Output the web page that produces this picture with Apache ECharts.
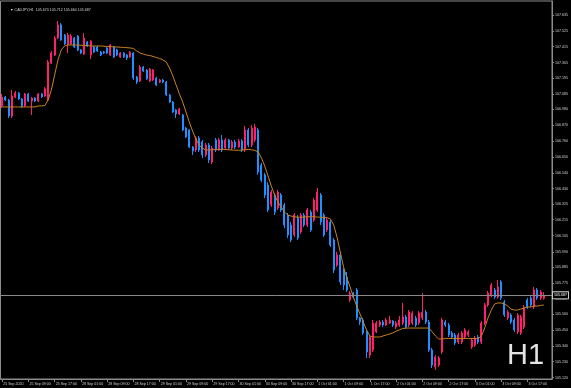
<!DOCTYPE html>
<html><head><meta charset="utf-8">
<script src="https://cdn.jsdelivr.net/npm/echarts@6/dist/echarts.min.js"></script>
<style>html,body{margin:0;padding:0;background:#000;}#c{width:571px;height:388px;}</style>
</head><body><div id="c"></div>
<script>
const symbolTitle = '\u25BC CADJPY,H1  105.670 105.712 105.660 105.687';
const periodText = 'H1';
const bidPrice = 105.687;
const timeLabels = ['25 Sep 2020','25 Sep 09:00','25 Sep 17:00','28 Sep 01:00','28 Sep 09:00','28 Sep 17:00',
  '29 Sep 01:00','29 Sep 09:00','29 Sep 17:00','30 Sep 01:00','30 Sep 09:00','30 Sep 17:00',
  '1 Oct 01:00','1 Oct 09:00','1 Oct 17:00','2 Oct 01:00','2 Oct 09:00','2 Oct 17:00',
  '3 Oct 01:00','3 Oct 09:00','3 Oct 17:00'];
const priceTicks = [105.120,105.230,105.340,105.450,105.560,105.667,105.775,105.885,105.990,106.105,106.215,106.325,
  106.430,106.540,106.650,106.760,106.870,106.980,107.085,107.195,107.305,107.415,107.525,107.635];
// [open, high, low, close]
const bars = [
[107.004,107.087,106.990,107.066],[107.066,107.073,107.038,107.045],[107.045,107.052,106.920,106.934],[106.934,107.115,106.920,107.073],
[107.066,107.108,107.059,107.094],[107.094,107.101,107.045,107.052],[107.052,107.059,106.990,107.004],[107.004,107.094,106.997,107.087],
[107.087,107.094,107.031,107.038],[107.038,107.066,106.941,107.059],[107.059,107.066,107.031,107.038],[107.038,107.094,107.031,107.087],
[107.087,107.094,107.059,107.066],[107.073,107.135,107.066,107.122],[107.045,107.323,107.038,107.309],[107.302,107.385,107.295,107.371],
[107.357,107.489,107.350,107.475],[107.475,107.593,107.468,107.566],[107.566,107.579,107.455,107.461],[107.496,107.503,107.427,107.434],
[107.427,107.510,107.371,107.496],[107.434,107.503,107.427,107.489],[107.475,107.482,107.406,107.413],[107.489,107.496,107.385,107.392],
[107.392,107.399,107.364,107.371],[107.364,107.510,107.357,107.475],[107.448,107.455,107.413,107.420],[107.357,107.461,107.330,107.455],
[107.413,107.420,107.371,107.378],[107.413,107.420,107.378,107.385],[107.378,107.385,107.350,107.357],[107.378,107.385,107.364,107.371],
[107.406,107.413,107.364,107.371],[107.357,107.434,107.350,107.427],[107.413,107.420,107.337,107.344],[107.392,107.399,107.350,107.357],
[107.344,107.378,107.337,107.371],[107.371,107.378,107.337,107.344],[107.357,107.364,107.323,107.337],[107.344,107.385,107.337,107.378],
[107.371,107.378,107.184,107.198],[107.205,107.212,107.156,107.170],[107.177,107.288,107.170,107.274],[107.274,107.281,107.239,107.246],
[107.253,107.260,107.184,107.191],[107.177,107.267,107.170,107.260],[107.184,107.260,107.177,107.253],[107.198,107.205,107.142,107.149],
[107.170,107.191,107.163,107.184],[107.184,107.191,107.163,107.170],[107.170,107.177,107.073,107.080],[107.080,107.087,107.024,107.031],
[107.031,107.038,106.955,106.962],[106.976,106.983,106.920,106.948],[106.948,106.990,106.941,106.983],[106.941,106.948,106.830,106.837],
[106.851,106.858,106.782,106.789],[106.837,106.844,106.712,106.719],[106.719,106.726,106.664,106.691],[106.698,106.795,106.684,106.782],
[106.782,106.795,106.684,106.698],[106.754,106.768,106.643,106.664],[106.664,106.747,106.650,106.733],[106.733,106.747,106.608,106.629],
[106.615,106.726,106.601,106.712],[106.768,106.782,106.684,106.698],[106.698,106.782,106.691,106.768],[106.768,106.802,106.684,106.698],
[106.712,106.782,106.698,106.768],[106.768,106.775,106.698,106.712],[106.712,106.768,106.698,106.754],[106.754,106.768,106.705,106.719],
[106.719,106.775,106.712,106.761],[106.761,106.775,106.684,106.698],[106.698,106.865,106.684,106.837],[106.837,106.851,106.719,106.733],
[106.733,106.872,106.719,106.851],[106.768,106.879,106.754,106.858],[106.837,106.851,106.525,106.546],[106.594,106.608,106.476,106.490],
[106.525,106.539,106.365,106.386],[106.455,106.476,106.268,106.282],[106.317,106.421,106.303,106.407],[106.386,106.400,106.247,106.268],
[106.296,106.421,106.282,106.407],[106.386,106.400,106.268,106.282],[106.317,106.331,106.157,106.178],[106.247,106.261,106.088,106.109],
[106.178,106.199,106.060,106.074],[106.109,106.261,106.095,106.247],[106.226,106.247,106.074,106.088],[106.129,106.261,106.116,106.247],
[106.247,106.261,106.164,106.178],[106.178,106.296,106.164,106.282],[106.268,106.282,106.129,106.143],[106.213,106.365,106.199,106.351],
[106.282,106.435,106.268,106.407],[106.386,106.400,106.178,106.199],[106.247,106.261,106.095,106.109],[106.143,106.226,106.129,106.213],
[106.199,106.213,106.025,106.039],[106.074,106.088,105.845,105.866],[105.900,105.991,105.887,105.970],[105.970,105.991,105.762,105.783],
[105.866,105.880,105.727,105.762],[105.817,105.852,105.713,105.727],[105.658,105.720,105.644,105.706],[105.706,105.713,105.665,105.678],
[105.727,105.741,105.519,105.533],[105.533,105.540,105.484,105.505],[105.519,105.533,105.415,105.429],[105.436,105.450,105.255,105.297],
[105.276,105.415,105.255,105.401],[105.311,105.519,105.297,105.498],[105.436,105.512,105.429,105.498],[105.484,105.519,105.470,105.505],
[105.505,105.519,105.470,105.484],[105.484,105.533,105.477,105.519],[105.498,105.547,105.491,105.519],[105.512,105.519,105.470,105.484],
[105.470,105.512,105.456,105.498],[105.484,105.547,105.470,105.519],[105.498,105.637,105.484,105.540],[105.540,105.554,105.456,105.470],
[105.484,105.588,105.470,105.574],[105.498,105.581,105.484,105.567],[105.533,105.547,105.470,105.484],[105.498,105.581,105.484,105.567],
[105.533,105.706,105.519,105.574],[105.574,105.588,105.491,105.505],[105.505,105.519,105.297,105.311],[105.311,105.325,105.186,105.207],
[105.193,105.276,105.172,105.262],[105.207,105.269,105.193,105.255],[105.297,105.533,105.283,105.519],[105.505,105.519,105.470,105.484],
[105.484,105.498,105.401,105.415],[105.429,105.443,105.387,105.401],[105.415,105.429,105.345,105.359],[105.366,105.429,105.352,105.415],
[105.366,105.443,105.352,105.429],[105.401,105.463,105.387,105.450],[105.415,105.450,105.401,105.436],[105.332,105.394,105.318,105.380],
[105.345,105.408,105.332,105.394],[105.401,105.415,105.352,105.366],[105.366,105.512,105.352,105.498],[105.498,105.637,105.484,105.623],
[105.623,105.720,105.609,105.706],[105.692,105.776,105.678,105.762],[105.727,105.741,105.665,105.678],[105.678,105.796,105.665,105.748],
[105.783,105.796,105.658,105.672],[105.644,105.658,105.540,105.554],[105.533,105.588,105.519,105.574],[105.554,105.567,105.491,105.505],
[105.519,105.533,105.436,105.450],[105.436,105.567,105.422,105.554],[105.429,105.554,105.415,105.540],[105.470,105.623,105.456,105.609],
[105.658,105.672,105.595,105.609],[105.672,105.685,105.609,105.623],[105.609,105.748,105.595,105.727],[105.727,105.741,105.658,105.672],
[105.672,105.727,105.658,105.713],[105.670,105.712,105.660,105.687]
];
const maValues = [
106.997,106.997,106.997,106.997,106.997,106.997,106.997,106.997,106.997,106.997,106.997,
107.004,107.004,107.007,107.045,107.115,107.219,107.323,107.392,107.420,107.427,
107.427,107.427,107.426,107.425,107.423,107.422,107.421,107.420,107.420,107.420,
107.418,107.417,107.415,107.414,107.413,107.411,107.410,107.408,107.406,107.403,
107.385,107.371,107.364,107.357,107.354,107.347,107.340,107.333,107.323,107.309,
107.267,107.212,107.149,107.087,107.031,106.962,106.893,106.830,106.775,106.733,
106.712,106.698,106.698,106.700,106.702,106.703,106.703,106.702,106.700,106.698,
106.697,106.697,106.698,106.700,106.702,106.700,106.695,106.684,106.643,106.587,
106.518,106.448,106.386,106.338,106.303,106.268,106.247,106.240,106.235,106.233,
106.232,106.233,106.235,106.236,106.235,106.233,106.232,106.230,106.228,106.220,
106.178,106.095,105.991,105.887,105.810,105.748,105.678,105.616,105.561,105.505,
105.450,105.408,105.401,105.401,105.401,105.408,105.415,105.422,105.429,105.442,
105.450,105.460,105.463,105.463,105.463,105.463,105.463,105.463,105.463,105.463,
105.436,105.408,105.387,105.387,105.391,105.391,105.391,105.391,105.391,105.391,
105.391,105.391,105.391,105.391,105.391,105.408,105.463,105.533,105.588,105.630,
105.637,105.637,105.630,105.616,105.595,105.588,105.588,105.595,105.602,105.609,
105.609,105.616,105.616,105.620,105.623
];
const totalSlots = 168;
const barsPerLabel = 8;
const yMin = 105.1096, yMax = 107.732;

const cats = Array.from({length: totalSlots}, (_, i) => String(i));
const candleData = bars.map(b => [b[0], b[3], b[2], b[1]]);
const showLabel = (idx) => idx % barsPerLabel === 0 && (idx / barsPerLabel) < timeLabels.length;
const tinyFont = '"Liberation Sans", Arial, sans-serif';
const tinySize = 3.6;
const chart = echarts.init(document.getElementById('c'), null, {renderer: 'canvas'});
chart.setOption({
  backgroundColor: '#000000',
  animation: false,
  grid: {left: 0.5, right: 17, top: 1, bottom: 9, show: true, borderColor: '#8c8c8c', borderWidth: 1},
  xAxis: {
    type: 'category', data: cats, boundaryGap: true,
    axisLine: {show: true, lineStyle: {color: '#8c8c8c'}},
    axisTick: {show: true, alignWithLabel: true, interval: (i) => showLabel(i), length: 3, lineStyle: {color: '#8c8c8c'}},
    axisLabel: {show: true, interval: (i) => showLabel(i), formatter: (v, i) => timeLabels[i / barsPerLabel] || '',
      color: '#d0d0d0', fontSize: tinySize, fontFamily: tinyFont, align: 'left', margin: 2.5, padding: [0, 0, 0, 1]},
    splitLine: {show: false}
  },
  yAxis: {
    type: 'value', position: 'right', min: yMin, max: yMax, scale: true,
    axisLine: {show: true, lineStyle: {color: '#8c8c8c'}},
    axisTick: {show: true, customValues: priceTicks, length: 2, lineStyle: {color: '#8c8c8c'}},
    axisLabel: {show: true, customValues: priceTicks, formatter: (v) => v.toFixed(3), color: '#d0d0d0',
      fontSize: tinySize, fontFamily: tinyFont, margin: 3},
    splitLine: {show: false}
  },
  title: [{text: symbolTitle, left: 5, top: 3, textStyle: {fontSize: tinySize, color: '#d0d0d0', fontWeight: 'normal', fontFamily: tinyFont}}],
  graphic: [{type: 'text', left: 507, top: 341, z: 100,
    style: {text: periodText, font: '29px "Liberation Sans"', fill: '#e4e4e4'}}],
  series: [
    {type: 'candlestick', data: candleData, barWidth: 1.5,
      itemStyle: {color: '#ff1f6e', color0: '#1e90ff', borderColor: '#ff1f6e', borderColor0: '#1e90ff', borderWidth: 1},
      markLine: {silent: true, symbol: 'none', data: [{yAxis: bidPrice}],
        lineStyle: {color: '#8a8a8a', type: 'solid', width: 1},
        label: {position: 'end', formatter: bidPrice.toFixed(3), color: '#ffffff', fontSize: tinySize, fontFamily: tinyFont,
          backgroundColor: '#000000', borderColor: '#cfcfcf', borderWidth: 1, padding: [1, 1], distance: 1}}
    },
    {type: 'line', data: maValues, symbol: 'none', smooth: false,
      lineStyle: {color: '#c8821e', width: 1}, z: 3}
  ]
});
</script></body></html>
